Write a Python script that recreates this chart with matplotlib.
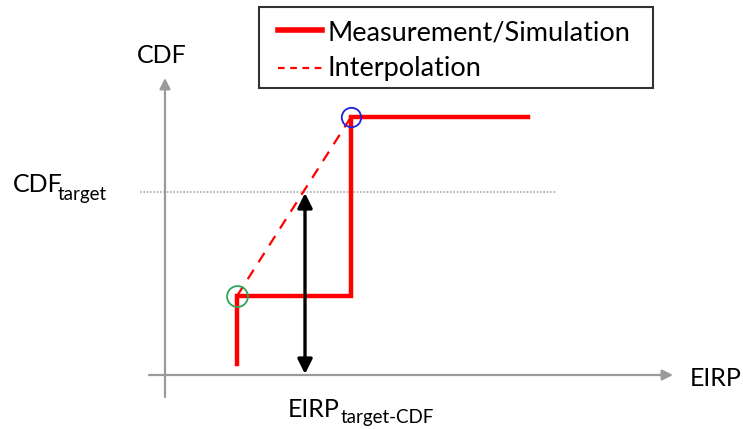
import matplotlib.pyplot as plt
from matplotlib.patches import Rectangle
from matplotlib.lines import Line2D

plt.rcParams['font.family'] = ['Lato', 'DejaVu Sans']

# diagram drawn in pixel units of the 743x429 canvas (y grows downward)
step_x = [237, 237, 351, 351, 528]
step_y = [364, 296, 296, 117, 117]

interp_x = [237, 351]
interp_y = [296, 117]

cdf_target = 192
eirp_target = 305

axis_origin = (165, 375)
x_axis_span = (149, 673)
y_axis_span = (397, 78)

low_point = (237, 296)
high_point = (351, 117)

fig = plt.figure(figsize=(7.43, 4.29), dpi=100)
ax = fig.add_axes([0, 0, 1, 1])
ax.set_xlim(0, 743)
ax.set_ylim(429, 0)
ax.axis('off')

grey = '#9a9a9a'
# axes with arrow heads
ax.annotate('', xy=(x_axis_span[1], axis_origin[1]), xytext=(x_axis_span[0], axis_origin[1]),
            arrowprops=dict(arrowstyle='-|>', color=grey, lw=1.6, mutation_scale=16, shrinkA=0, shrinkB=0))
ax.annotate('', xy=(axis_origin[0], y_axis_span[1]), xytext=(axis_origin[0], y_axis_span[0]),
            arrowprops=dict(arrowstyle='-|>', color=grey, lw=1.6, mutation_scale=16, shrinkA=0, shrinkB=0))

# target level
ax.plot([140, 557], [cdf_target, cdf_target], color='#aaaaaa', lw=1.2, ls=(0, (1, 1)))

# measured step CDF and interpolation
ax.plot(step_x, step_y, color='#ff0000', lw=3.2, solid_joinstyle='miter')
ax.plot(interp_x, interp_y, color='#ff0000', lw=1.6, ls=(0, (5, 4)))

ax.plot(*low_point, marker='o', ms=15, mfc='none', mec='#2ca85a', mew=1.3)
ax.plot(*high_point, marker='o', ms=14, mfc='none', mec='#2020e0', mew=1.3)

# double arrow for EIRP at target CDF
ax.annotate('', xy=(eirp_target, axis_origin[1] - 1), xytext=(eirp_target, cdf_target + 1),
            arrowprops=dict(arrowstyle='<|-|>', color='black', lw=2.4, mutation_scale=22, shrinkA=0, shrinkB=0))

# labels
fs = 18
ax.text(137, 63, 'CDF', fontsize=fs, va='baseline', ha='left')
ax.text(690, 386, 'EIRP', fontsize=fs, va='baseline', ha='left')
ax.text(13, 192, 'CDF', fontsize=fs, va='baseline', ha='left')
ax.text(58, 200, 'target', fontsize=13.5, va='baseline', ha='left')
ax.text(288, 417, 'EIRP', fontsize=fs, va='baseline', ha='left')
ax.text(341, 423, 'target-CDF', fontsize=13.5, va='baseline', ha='left')

# legend box
ax.add_patch(Rectangle((259, 7), 394, 81, fill=False, ec='#333333', lw=1.5))
ax.add_line(Line2D([278, 322], [30, 30], color='#ff0000', lw=4))
ax.add_line(Line2D([278, 322], [68, 68], color='#ff0000', lw=1.6, ls=(0, (3, 2.5))))
ax.text(328, 40, 'Measurement/Simulation', fontsize=19.5, va='baseline', ha='left')
ax.text(328, 76, 'Interpolation', fontsize=19.5, va='baseline', ha='left')

fig.savefig('out.png', dpi=100)
